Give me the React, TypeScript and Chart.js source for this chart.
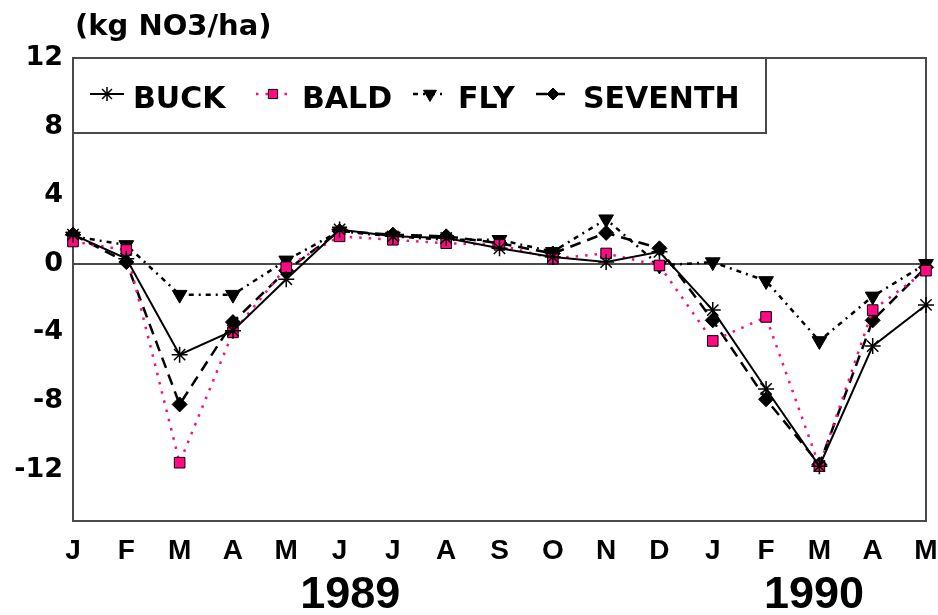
import React, { useEffect, useRef } from 'react';
import { Chart, registerables } from 'chart.js';
import { drawPoint } from 'chart.js/helpers';

Chart.register(...registerables);

// ---- data ----
const months = ['J', 'F', 'M', 'A', 'M', 'J', 'J', 'A', 'S', 'O', 'N', 'D', 'J', 'F', 'M', 'A', 'M'];
const buck = [1.7, 0.3, -5.3, -3.9, -0.9, 2.0, 1.6, 1.5, 0.9, 0.4, 0.1, 0.7, -2.7, -7.3, -11.8, -4.8, -2.4];
const bald = [1.3, 0.8, -11.6, -4.0, -0.2, 1.6, 1.4, 1.2, 1.1, 0.3, 0.6, -0.1, -4.5, -3.1, -11.8, -2.7, -0.4];
const fly = [1.6, 1.1, -1.8, -1.8, 0.2, 1.9, 1.6, 1.4, 1.4, 0.7, 2.6, -0.1, 0.1, -1.0, -4.5, -1.9, 0.0];
const seventh = [1.7, 0.1, -8.2, -3.4, -0.4, 1.9, 1.7, 1.6, 1.2, 0.6, 1.8, 0.9, -3.3, -7.9, -11.7, -3.3, -0.2];
const seriesNames = ['BUCK', 'BALD', 'FLY', 'SEVENTH'];
const yTicks = [12, 8, 4, 0, -4, -8, -12];
const yMin = -15;
const yMax = 12;
const yTitle = '(kg NO3/ha)';
const yearLabels = ['1989', '1990'];
const yearAt = [5.2, 13.9];

// ---- styles ----
const PINK = '#ff0a84';
const AXIS = '#4a4a4a';

const seriesStyles = [
  { data: buck, color: '#000', width: 2, dash: [] as number[], pointStyle: 'star', radius: 8, rotation: 0, fill: '#000', pborder: 1.5, legendRadius: 7 },
  { data: bald, color: PINK, width: 2.5, dash: [2.5, 7], pointStyle: 'rect', radius: 7.5, rotation: 0, fill: PINK, pborder: 1, legendRadius: 6.5, pborderColor: '#000' },
  { data: fly, color: '#000', width: 2.5, dash: [5, 5, 2, 5], pointStyle: 'triangle', radius: 8.5, rotation: 180, fill: '#000', pborder: 1, legendRadius: 7.5 },
  { data: seventh, color: '#000', width: 2.5, dash: [11, 7], pointStyle: 'rectRot', radius: 7.5, rotation: 0, fill: '#000', pborder: 1, legendRadius: 6 },
];

const legendMarkerOffsets = [34, 200, 357, 480];
const legendTextOffsets = [60, 229, 385, 510];

const overlayPlugin = {
  id: 'overlay',
  beforeDatasetsDraw(chart: any) {
    const { ctx, chartArea: a } = chart;
    ctx.save();
    ctx.strokeStyle = AXIS;
    ctx.lineWidth = 2;
    ctx.strokeRect(a.left, a.top, a.right - a.left, a.bottom - a.top);
    ctx.restore();
  },
  afterDraw(chart: any) {
    const { ctx, chartArea: a, scales } = chart;
    ctx.save();
    // axis title
    ctx.fillStyle = '#000';
    ctx.font = 'bold 29px "DejaVu Sans"';
    ctx.textAlign = 'left';
    ctx.textBaseline = 'alphabetic';
    ctx.fillText(yTitle, a.left + 2, 35);

    // legend box
    const bx = a.left, by = a.top, bw = 693, bh = 75;
    ctx.fillStyle = '#fff';
    ctx.fillRect(bx, by, bw, bh);
    ctx.strokeStyle = AXIS;
    ctx.lineWidth = 2;
    ctx.strokeRect(bx, by, bw, bh);

    const my = by + 36;
    seriesStyles.forEach((s, i) => {
      const mx = bx + legendMarkerOffsets[i];
      ctx.save();
      ctx.strokeStyle = s.color;
      ctx.lineWidth = s.width;
      ctx.setLineDash(s.dash);
      ctx.beginPath();
      ctx.moveTo(mx - 17, my);
      ctx.lineTo(mx + 17, my);
      ctx.stroke();
      ctx.setLineDash([]);
      ctx.fillStyle = s.fill;
      ctx.strokeStyle = (s as any).pborderColor || s.color;
      ctx.lineWidth = s.pborder;
      drawPoint(ctx, { pointStyle: s.pointStyle as any, rotation: s.rotation, radius: s.legendRadius, borderWidth: s.pborder }, mx, my);
      ctx.restore();
      ctx.fillStyle = '#000';
      ctx.font = 'bold 30px "DejaVu Sans"';
      ctx.textAlign = 'left';
      ctx.textBaseline = 'alphabetic';
      ctx.fillText(seriesNames[i], bx + legendTextOffsets[i], by + 50);
    });

    // years
    ctx.fillStyle = '#000';
    ctx.font = 'bold 45px "Liberation Sans", Arial, sans-serif';
    ctx.textAlign = 'center';
    ctx.textBaseline = 'alphabetic';
    yearLabels.forEach((t, i) => {
      ctx.fillText(t, scales.x.getPixelForValue(yearAt[i]), 608);
    });
    ctx.restore();
  },
};

export default function App() {
  const ref = useRef<HTMLCanvasElement | null>(null);

  useEffect(() => {
    if (!ref.current) return;
    const chart = new Chart(ref.current, {
      type: 'line',
      data: {
        labels: months,
        datasets: seriesStyles.map((s, i) => ({
          label: seriesNames[i],
          data: s.data,
          borderColor: s.color,
          borderWidth: s.width,
          borderDash: s.dash,
          tension: 0,
          fill: false,
          clip: false as any,
          pointStyle: s.pointStyle as any,
          pointRadius: s.radius,
          pointRotation: s.rotation,
          pointBackgroundColor: s.fill,
          pointBorderColor: (s as any).pborderColor || s.color,
          pointBorderWidth: s.pborder,
          pointHoverRadius: s.radius,
        })),
      },
      options: {
        responsive: false,
        animation: false,
        devicePixelRatio: 1,
        layout: { padding: { top: 58, right: 12, left: 0, bottom: 0 } },
        plugins: {
          legend: { display: false },
          tooltip: { enabled: false },
          title: { display: false },
        },
        events: [],
        scales: {
          x: {
            type: 'category',
            offset: false,
            grid: { display: false },
            border: { display: false },
            ticks: {
              autoSkip: false,
              maxRotation: 0,
              padding: 5,
              color: '#000',
              font: { family: '"Liberation Sans", Arial, sans-serif', size: 28, weight: 'bold' },
            },
            afterFit: (s: any) => { s.height = 94; s.paddingRight = 0; s.paddingLeft = 0; },
          },
          y: {
            min: yMin,
            max: yMax,
            afterBuildTicks: (s: any) => { s.ticks = yTicks.map((v) => ({ value: v })); },
            grid: {
              drawTicks: false,
              lineWidth: 2,
              color: (c: any) => (c.tick && c.tick.value === 0 ? AXIS : 'rgba(0,0,0,0)'),
            },
            border: { display: false },
            ticks: {
              padding: 10,
              color: '#000',
              font: { family: '"DejaVu Sans"', size: 27, weight: 'bold' },
            },
            afterFit: (s: any) => { s.width = 73; s.paddingTop = 0; s.paddingBottom = 0; },
          },
        },
      },
      plugins: [overlayPlugin],
    });
    return () => chart.destroy();
  }, []);

  return (
    <div style={{ position: 'absolute', left: 0, top: 0, width: 938, height: 615, background: '#fff' }}>
      <canvas ref={ref} width={938} height={615} />
    </div>
  );
}
